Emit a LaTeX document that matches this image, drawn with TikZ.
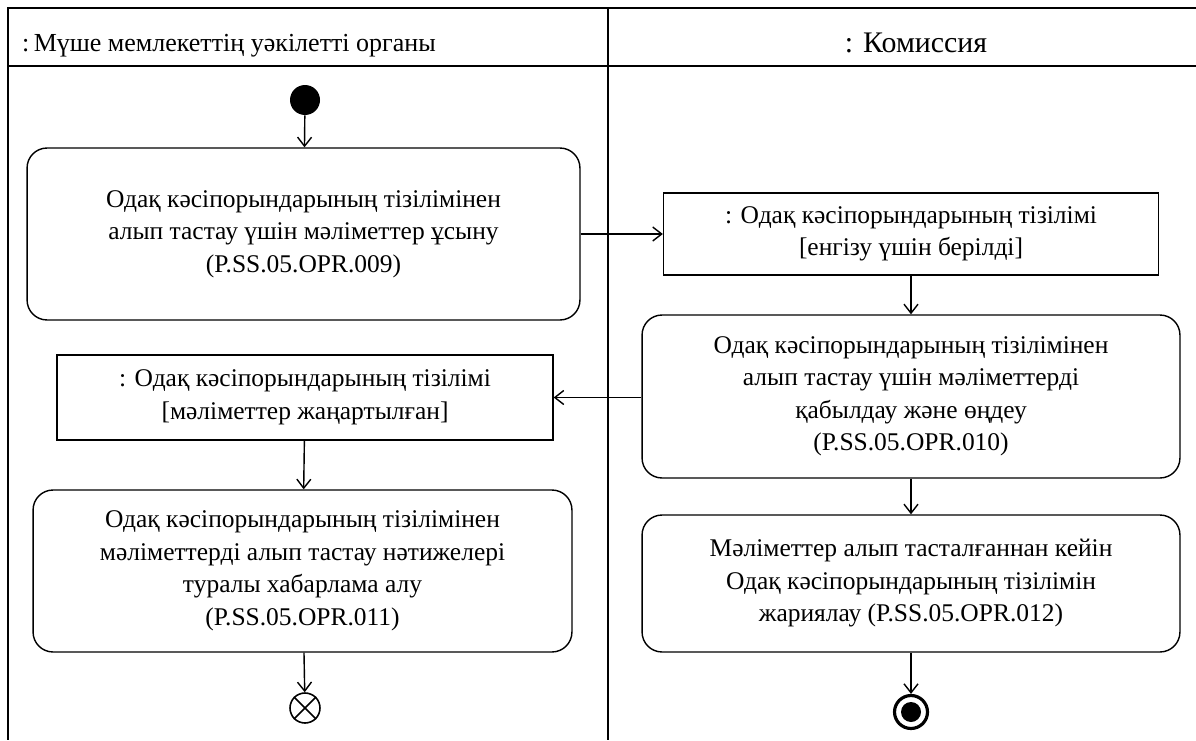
\documentclass[tikz,border=0pt]{standalone}
\usepackage{fontspec}
\setmainfont{Liberation Serif}
\usepackage{tikz}
\usetikzlibrary{arrows.meta, positioning, shapes.geometric}

\begin{document}
\begin{tikzpicture}[
  x=0.02cm, y=-0.02cm,
  every node/.style={font=\fontsize{14.5}{18.5}\selectfont},
  action/.style={rectangle, rounded corners=0.4cm, draw, line width=0.8pt, align=center},
  object/.style={rectangle, draw, line width=0.8pt, align=center},
  flow/.style={line width=0.8pt, -{Straight Barb[length=1.8mm, width=2.8mm]}}
]
\useasboundingbox (0,0) rectangle (1196,740);
\draw [line width=1.1pt] (1196,8) -- (8,8) -- (8,740);
\draw [line width=1.1pt] (8,66) -- (1196,66);
\draw [line width=1.1pt] (608,8) -- (608,740);
\node [anchor=base west, font=\fontsize{14.8}{18}\selectfont] (laneA) at (16,52) {:\,Мүше мемлекеттің уәкілетті органы};
\node [anchor=base, font=\fontsize{17}{20}\selectfont] (laneB) at (916,53) {: Комиссия};

\node [circle, fill=black, minimum size=0.6cm, inner sep=0pt] (start) at (305,100) {};
\node [action, minimum width=11.06cm, minimum height=3.44cm] (submit) at (303.5,234)
  {Одақ кәсіпорындарының тізілімінен\\алып тастау үшін мәліметтер ұсыну\\(P.SS.05.OPR.009)};
\node [object, minimum width=9.9cm, minimum height=1.64cm] (regIn) at (911,234)
  {: Одақ кәсіпорындарының тізілімі\\{[}енгізу үшін берілді{]}};
\node [action, minimum width=10.76cm, minimum height=3.26cm] (process) at (911,396.5)
  {Одақ кәсіпорындарының тізілімінен\\алып тастау үшін мәліметтерді\\қабылдау және өңдеу\\(P.SS.05.OPR.010)};
\node [object, minimum width=9.92cm, minimum height=1.7cm] (regUpd) at (305,397.5)
  {: Одақ кәсіпорындарының тізілімі\\{[}мәліметтер жаңартылған{]}};
\node [action, minimum width=10.78cm, minimum height=3.24cm] (notice) at (302.5,571)
  {Одақ кәсіпорындарының тізілімінен\\мәліметтерді алып тастау нәтижелері\\туралы хабарлама алу\\(P.SS.05.OPR.011)};
\node [action, minimum width=10.76cm, minimum height=2.74cm] (publish) at (911,583.5)
  {Мәліметтер алып тасталғаннан кейін\\Одақ кәсіпорындарының тізілімін\\жариялау (P.SS.05.OPR.012)};
\node [circle, draw, line width=0.9pt, minimum size=0.6cm, inner sep=0pt] (flowEnd) at (305,708) {};
\draw [line width=0.9pt] (flowEnd.north east) -- (flowEnd.south west);
\draw [line width=0.9pt] (flowEnd.north west) -- (flowEnd.south east);
\node [circle, draw, line width=1.8pt, minimum size=0.66cm, inner sep=0pt] (finish) at (911,712) {};
\fill (finish) circle (0.2cm);

\draw [flow] (start) -- (submit);
\draw [flow] (submit.east) -- (regIn.west);
\draw [flow] (regIn) -- (process);
\draw [flow] (process.west |- regUpd.east) -- (regUpd.east);
\draw [flow] (regUpd) -- (notice);
\draw [flow] (notice) -- (flowEnd);
\draw [flow] (process) -- (publish);
\draw [flow] (publish) -- (finish);
\end{tikzpicture}
\end{document}
